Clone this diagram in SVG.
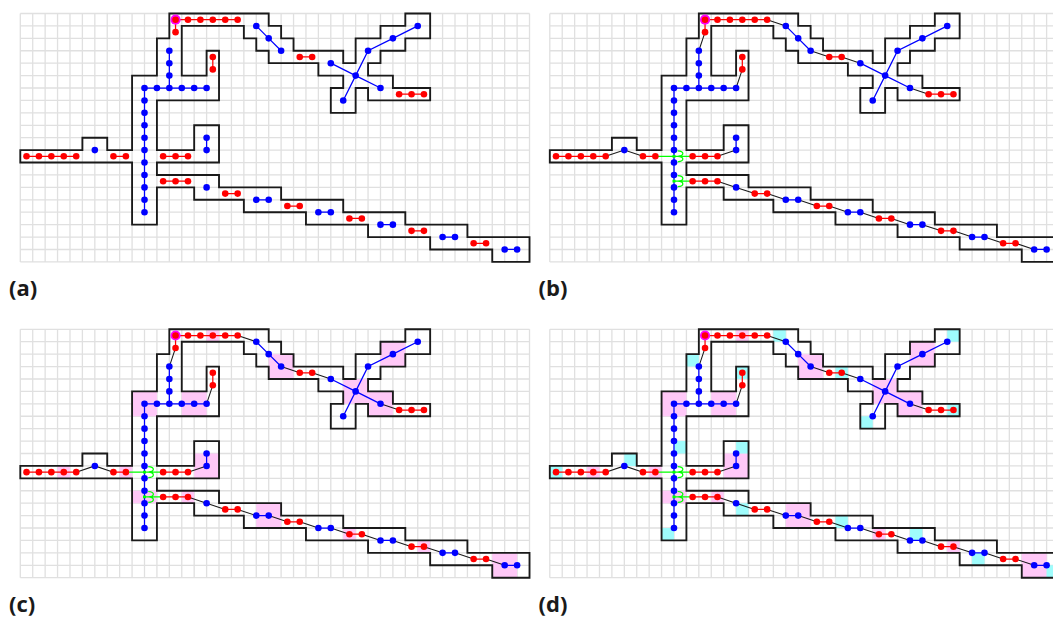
<svg xmlns="http://www.w3.org/2000/svg" xmlns:xlink="http://www.w3.org/1999/xlink" width="1053" height="619" viewBox="0 0 1053 619">
<style>
.grid{fill:none;stroke:#e0e0e0;stroke-width:.105}
.outline{fill:none;stroke:#1a1a1a;stroke-width:.15;stroke-linejoin:miter}
.pink{fill:#ffc8f7}
.cyan{fill:#9ffcfc}
.red-e{fill:none;stroke:#ff0000;stroke-width:.1}
.blue-e{fill:none;stroke:#0000ff;stroke-width:.1}
.link{fill:none;stroke:#1a1a1a;stroke-width:.085}
.green{fill:none;stroke:#00ff00;stroke-width:.1}
.red circle{fill:#ff0000}
.blue circle{fill:#0000ff}
.label{font-family:"Open Sans","DejaVu Sans",sans-serif;font-weight:700;font-size:22px;fill:#1a1a1a}
</style>
<defs>
<path id="grid" class="grid" d="M0 0H41M0 1H41M0 2H41M0 3H41M0 4H41M0 5H41M0 6H41M0 7H41M0 8H41M0 9H41M0 10H41M0 11H41M0 12H41M0 13H41M0 14H41M0 15H41M0 16H41M0 17H41M0 18H41M0 19H41M0 20H41M0 0V20M1 0V20M2 0V20M3 0V20M4 0V20M5 0V20M6 0V20M7 0V20M8 0V20M9 0V20M10 0V20M11 0V20M12 0V20M13 0V20M14 0V20M15 0V20M16 0V20M17 0V20M18 0V20M19 0V20M20 0V20M21 0V20M22 0V20M23 0V20M24 0V20M25 0V20M26 0V20M27 0V20M28 0V20M29 0V20M30 0V20M31 0V20M32 0V20M33 0V20M34 0V20M35 0V20M36 0V20M37 0V20M38 0V20M39 0V20M40 0V20M41 0V20"/>
<path id="outline" class="outline" d="M12 0H20V1H21V2H22V3H26V4H27V2H29V1H31V0H33V2H31V3H29V4H28V5H30V6H33V7H28V6H27V8H25V6H26V5H24V4H20V3H19V2H18V1H13V5H15V3H16V7H11V11H14V9H16V12H11V13H16V14H21V15H26V16H31V17H36V18H41V20H38V19H33V18H28V17H23V16H18V15H14V14H11V17H9V12H0V11H5V10H7V11H9V5H11V2H12Z"/>
<path id="pink-cells" class="pink" d="M15 0h1v1h-1zM3 11h1v1h-1zM8 11h1v1h-1zM9 5h2v2h-2zM13 5h2v2h-2zM14 10h2v2h-2zM20 2h2v2h-2zM26 4h2v2h-2zM28 5h2v2h-2zM29 1h2v2h-2zM19 14h2v2h-2zM26 16h1v1h-1zM32 17h1v1h-1zM38 18h2v2h-2zM9 13h2v1h-2zM13 13h1v1h-1z"/>
<path id="cyan-cells" class="cyan" d="M0 11h1v1h-1zM6 10h1v1h-1zM10 9h1v1h-1zM11 2h1v1h-1zM15 3h1v1h-1zM15 9h1v1h-1zM18 0h1v1h-1zM23 3h1v1h-1zM32 0h1v1h-1zM25 7h1v1h-1zM32 6h1v1h-1zM15 14h1v1h-1zM9 16h1v1h-1zM23 15h1v1h-1zM29 16h1v1h-1zM34 18h1v1h-1zM40 19h1v1h-1z"/>
<g id="edges">
<path class="red-e" d="M12.5 1.5V.5H17.5M15.5 3.5V4.5M22.5 3.5H23.5M30.5 6.5H32.5M.5 11.5H4.5M7.5 11.5H8.5M11.5 11.5H13.5M11.5 13.5H13.5M16.5 14.5H17.5M21.5 15.5H22.5M26.5 16.5H27.5M31.5 17.5H32.5M36.5 18.5H37.5"/>
<path class="blue-e" d="M12 3V6M10 16V6H15M15 10V11M19 15H20M24 16H25M29 17H30M34 18H35M39 19H40M19 1L20 2L21 3M25 4L27 5L29 6M26 7L27 5L28 3L30 2L32 1"/>
</g>
<g id="links">
<path class="link" d="M12.5 1.5L12 3M15.5 4.5L15 6M17.5 .5L19 1M21 3L22.5 3.5M23.5 3.5L25 4M29 6L30.5 6.5M4.5 11.5L6 11L7.5 11.5M13.5 11.5L15 11M13.5 13.5L15 14L16.5 14.5M17.5 14.5L19 15M20 15L21.5 15.5M22.5 15.5L24 16M25 16L26.5 16.5M27.5 16.5L29 17M30 17L31.5 17.5M32.5 17.5L34 18M35 18L36.5 18.5M37.5 18.5L39 19"/>
<path class="green" d="M8.5 11.5H11.5M10.3 11.06C10.85 11.1 10.85 11.45 10.3 11.5C10.85 11.55 10.85 11.9 10.3 11.94M10 13.5H11.5M10.3 13.06C10.85 13.1 10.85 13.45 10.3 13.5C10.85 13.55 10.85 13.9 10.3 13.94"/>
<path class="green" style="stroke-width:.22" d="M9.88 11.5H10.12M9.88 13.5H10.12"/>
</g>
<g id="dots">
<circle cx="12.5" cy=".5" r=".41" fill="#ff00ff"/>
<g class="red"><circle cx="12.5" cy=".5" r=".265"/><circle cx="13.5" cy=".5" r=".265"/><circle cx="14.5" cy=".5" r=".265"/><circle cx="15.5" cy=".5" r=".265"/><circle cx="16.5" cy=".5" r=".265"/><circle cx="17.5" cy=".5" r=".265"/><circle cx="12.5" cy="1.5" r=".265"/><circle cx="15.5" cy="3.5" r=".265"/><circle cx="15.5" cy="4.5" r=".265"/><circle cx="22.5" cy="3.5" r=".265"/><circle cx="23.5" cy="3.5" r=".265"/><circle cx="30.5" cy="6.5" r=".265"/><circle cx="31.5" cy="6.5" r=".265"/><circle cx="32.5" cy="6.5" r=".265"/><circle cx=".5" cy="11.5" r=".265"/><circle cx="1.5" cy="11.5" r=".265"/><circle cx="2.5" cy="11.5" r=".265"/><circle cx="3.5" cy="11.5" r=".265"/><circle cx="4.5" cy="11.5" r=".265"/><circle cx="7.5" cy="11.5" r=".265"/><circle cx="8.5" cy="11.5" r=".265"/><circle cx="11.5" cy="11.5" r=".265"/><circle cx="12.5" cy="11.5" r=".265"/><circle cx="13.5" cy="11.5" r=".265"/><circle cx="11.5" cy="13.5" r=".265"/><circle cx="12.5" cy="13.5" r=".265"/><circle cx="13.5" cy="13.5" r=".265"/><circle cx="16.5" cy="14.5" r=".265"/><circle cx="17.5" cy="14.5" r=".265"/><circle cx="21.5" cy="15.5" r=".265"/><circle cx="22.5" cy="15.5" r=".265"/><circle cx="26.5" cy="16.5" r=".265"/><circle cx="27.5" cy="16.5" r=".265"/><circle cx="31.5" cy="17.5" r=".265"/><circle cx="32.5" cy="17.5" r=".265"/><circle cx="36.5" cy="18.5" r=".265"/><circle cx="37.5" cy="18.5" r=".265"/></g>
<g class="blue"><circle cx="12" cy="3" r=".265"/><circle cx="12" cy="4" r=".265"/><circle cx="12" cy="5" r=".265"/><circle cx="10" cy="6" r=".265"/><circle cx="11" cy="6" r=".265"/><circle cx="12" cy="6" r=".265"/><circle cx="13" cy="6" r=".265"/><circle cx="14" cy="6" r=".265"/><circle cx="15" cy="6" r=".265"/><circle cx="10" cy="7" r=".265"/><circle cx="10" cy="8" r=".265"/><circle cx="10" cy="9" r=".265"/><circle cx="10" cy="10" r=".265"/><circle cx="10" cy="11" r=".265"/><circle cx="10" cy="12" r=".265"/><circle cx="10" cy="13" r=".265"/><circle cx="10" cy="14" r=".265"/><circle cx="10" cy="15" r=".265"/><circle cx="10" cy="16" r=".265"/><circle cx="15" cy="10" r=".265"/><circle cx="15" cy="11" r=".265"/><circle cx="6" cy="11" r=".265"/><circle cx="15" cy="14" r=".265"/><circle cx="19" cy="15" r=".265"/><circle cx="20" cy="15" r=".265"/><circle cx="24" cy="16" r=".265"/><circle cx="25" cy="16" r=".265"/><circle cx="29" cy="17" r=".265"/><circle cx="30" cy="17" r=".265"/><circle cx="34" cy="18" r=".265"/><circle cx="35" cy="18" r=".265"/><circle cx="39" cy="19" r=".265"/><circle cx="40" cy="19" r=".265"/><circle cx="19" cy="1" r=".265"/><circle cx="20" cy="2" r=".265"/><circle cx="21" cy="3" r=".265"/><circle cx="25" cy="4" r=".265"/><circle cx="27" cy="5" r=".265"/><circle cx="29" cy="6" r=".265"/><circle cx="26" cy="7" r=".265"/><circle cx="28" cy="3" r=".265"/><circle cx="30" cy="2" r=".265"/><circle cx="32" cy="1" r=".265"/></g>
</g>
</defs>
<rect width="1053" height="619" fill="#ffffff"/>
<g id="panel-a" transform="translate(20.3 13.5) scale(12.42)">
<use href="#grid"/><use href="#outline"/><use href="#edges"/><use href="#dots"/>
</g>
<g id="panel-b" transform="translate(549.8 13.5) scale(12.42)">
<use href="#grid"/><use href="#outline"/><g id="connectors-b"><use href="#edges"/><use href="#links"/></g><use href="#dots"/>
</g>
<g id="panel-c" transform="translate(20.3 329.3) scale(12.42)">
<use href="#grid"/><use href="#pink-cells"/><use href="#outline"/><g id="connectors-c"><use href="#edges"/><use href="#links"/></g><use href="#dots"/>
</g>
<g id="panel-d" transform="translate(549.8 329.3) scale(12.42)">
<use href="#grid"/><use href="#pink-cells"/><use href="#cyan-cells"/><use href="#outline"/><g id="connectors-d"><use href="#edges"/><use href="#links"/></g><use href="#dots"/>
</g>
<text class="label" x="9" y="296">(a)</text>
<text class="label" x="538.5" y="296">(b)</text>
<text class="label" x="9" y="612">(c)</text>
<text class="label" x="538.5" y="612">(d)</text>
</svg>
